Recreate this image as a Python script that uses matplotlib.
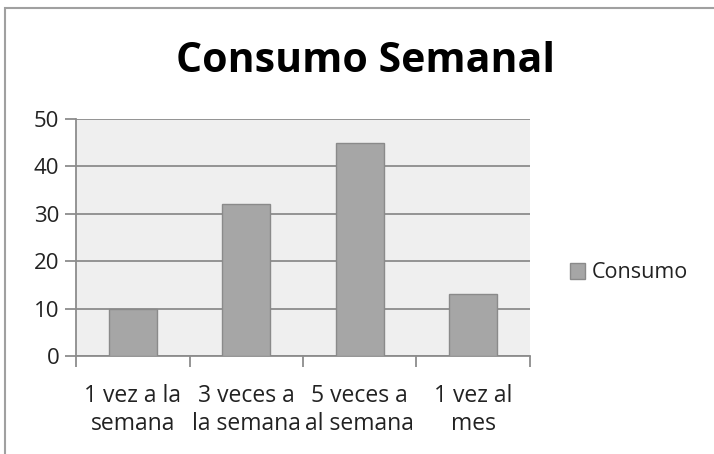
import matplotlib
matplotlib.use("Agg")
import matplotlib.pyplot as plt
from matplotlib.patches import Rectangle

categories = ["1 vez a la\nsemana", "3 veces a\nla semana", "5 veces a\nal semana", "1 vez al\nmes"]
values = [10, 32, 45, 13]
series_name = "Consumo"
title = "Consumo Semanal"
yticks = [0, 10, 20, 30, 40, 50]

plt.rcParams['font.family'] = ['Open Sans', 'DejaVu Sans']

fig = plt.figure(figsize=(7.14, 4.54), dpi=100)
fig.patch.set_facecolor("white")
fig.patches.append(Rectangle((5/714, -0.1), 1.2, (454-8)/454 + 0.1, transform=fig.transFigure,
                             fill=False, edgecolor="#a0a0a0", linewidth=1.5))

ax = fig.add_axes([76/714, (454-356)/454, (530-76)/714, (356-119)/454])
ax.set_facecolor("#efefef")
x = list(range(len(categories)))
ax.bar(x, values, width=0.42, color="#a6a6a6", edgecolor="#8a8a8a", linewidth=1.0,
       label=series_name, zorder=3)
ax.set_xlim(-0.5, len(categories) - 0.5)
ax.set_ylim(0, 50)
ax.set_yticks(yticks)
ax.yaxis.grid(True, color="#8c8c8c", linewidth=1.3, zorder=1)
ax.set_axisbelow(True)
for s in ["top", "right"]:
    ax.spines[s].set_visible(False)
for s in ["left", "bottom"]:
    ax.spines[s].set_color("#8c8c8c")
    ax.spines[s].set_linewidth(1.3)
ax.tick_params(axis="y", length=8, color="#8c8c8c", width=1.3, labelsize=16, labelcolor="#222222", pad=4)
ax.set_xticks([i - 0.5 for i in range(len(categories) + 1)], minor=False)
ax.set_xticklabels([])
ax.tick_params(axis="x", length=8, color="#8c8c8c", width=1.3)
ax.set_xticks(x, minor=True)
ax.set_xticklabels(categories, minor=True, fontsize=16.5, color="#222222", linespacing=1.25)
ax.tick_params(axis="x", which="minor", length=0, pad=20)

fig.text(365/714, 1 - 61/454, title, ha="center", va="center", fontsize=29.5, fontweight="bold", color="black")

leg = fig.legend(loc="center left", bbox_to_anchor=(570/714, 1 - 273/454), frameon=False,
                 fontsize=15.5, handlelength=0.7, handleheight=0.7, handletextpad=0.3, borderpad=0,
                 borderaxespad=0)
for t in leg.get_texts():
    t.set_color("#222222")

fig.savefig("out.png", dpi=100)
